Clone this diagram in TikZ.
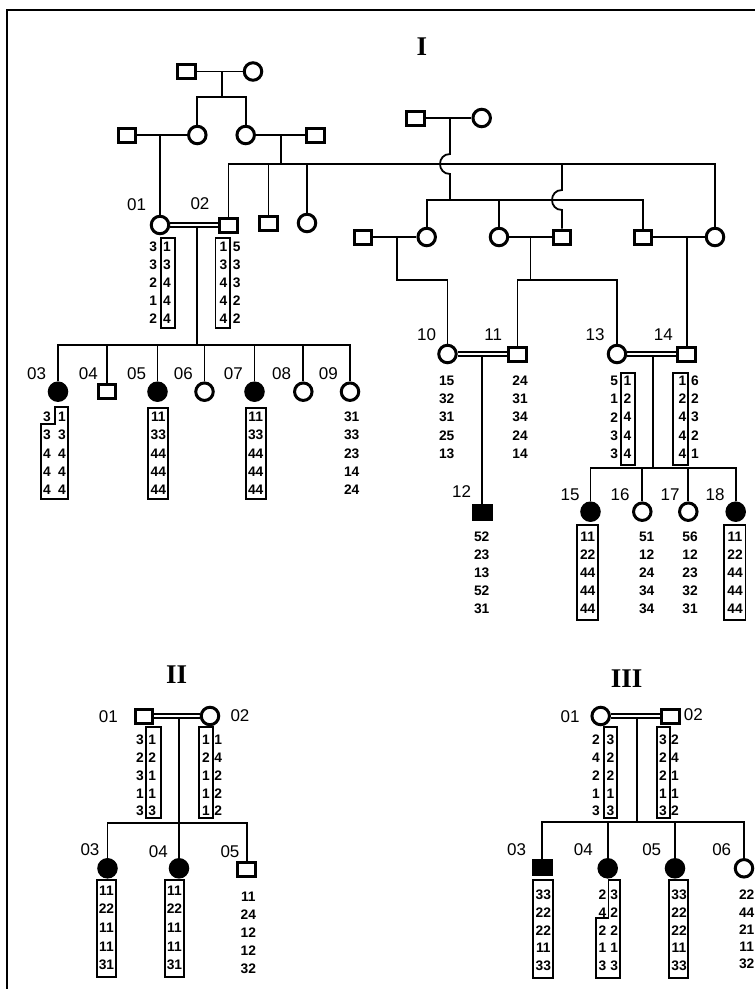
\documentclass[tikz,border=0pt]{standalone}
\usepackage{fontspec}
\setmainfont{Liberation Sans}
\newfontfamily\titlefont{Liberation Serif}
\usetikzlibrary{backgrounds}
\newcommand{\gcol}[5]{\foreach \v [count=\k from 0] in {#5} {\node[gt] (#1-\k) at (#2,{#3+\k*#4}) {\v};}}
\begin{document}
\begin{tikzpicture}[x=1pt,y=-1pt,
  ln/.style={line width=1.8pt},
  dbl/.style={line width=1.5pt, double=white, double distance=2.6pt},
  male/.style={draw, rectangle, minimum width=17.5pt, minimum height=14pt, line width=3pt, inner sep=0pt, fill=white},
  fem/.style={draw, circle, minimum size=17.5pt, line width=3pt, inner sep=0pt, fill=white},
  aff/.style={fill=black},
  gt/.style={font=\bfseries\fontsize{13.8}{15}\selectfont, inner sep=0pt},
  lab/.style={font=\fontsize{17}{19}\selectfont, inner sep=0pt},
  gbox/.style={line width=1.8pt},
  ttl/.style={font=\titlefont\bfseries\fontsize{27}{29}\selectfont, inner sep=0pt},
]
\useasboundingbox (0,0) rectangle (755,989);
% frame
\coordinate (bl) at (7,989); \coordinate (tl) at (7,10); \coordinate (tr) at (755,10);
\draw[line width=1.6pt] (bl) -- (tl) -- (tr);
% titles
\node[ttl] (tI) at (422,47) {I};
\node[ttl] (tII) at (176.7,675) {II};
\node[ttl] (tIII) at (626.7,678.3) {III};

% ===== Family I =====
\node[male] (a1) at (186.5,71.5) {};
\node[fem] (a2) at (253,71.5) {};
\coordinate (ma) at (221.7,71.5);
\coordinate (sa) at (221.7,97);
\node[male] (b1) at (127,135) {};
\node[fem] (b2) at (197.3,135) {};
\node[fem] (b3) at (245.7,135) {};
\node[male] (b4) at (315.5,135) {};
\coordinate (mb1) at (160,135);
\coordinate (mb2) at (281,135);
\coordinate (L1) at (228.5,164); \coordinate (L2) at (715,164);
\node[male] (c1) at (415.5,118) {};
\node[fem] (c2) at (481.7,118) {};
\coordinate (mc) at (450,118); \coordinate (h1a) at (450,154);
\coordinate (h1b) at (450,174); \coordinate (sc) at (450,200);
\node[fem] (c3) at (426.7,237) {};
\node[fem] (c4) at (499,237) {};
\node[male] (c5) at (643,237) {};
\node[fem] (c6) at (715,237) {};
\node[male] (d1) at (363,237) {};
\node[male] (d4) at (562,237) {};
\coordinate (L3) at (562,164); \coordinate (h2a) at (562,190); \coordinate (h2b) at (562,210);
\node[male] (e1) at (268.5,223) {};
\node[fem] (e2) at (307,223) {};

\node[fem] (I01) at (160,225) {};
\node[male] (I02) at (228.5,225) {};
\coordinate (m0102) at (196.7,227.5); \coordinate (s01) at (196.7,345);
\node[fem,aff] (I03) at (58,391.7) {};
\node[male] (I04) at (107,391.7) {};
\node[fem,aff] (I05) at (157.5,391.7) {};
\node[fem] (I06) at (204.5,391.7) {};
\node[fem,aff] (I07) at (254.5,391.7) {};
\node[fem] (I08) at (303.3,391.7) {};
\node[fem] (I09) at (350,391.7) {};

\coordinate (md1) at (397.3,237); \coordinate (j10) at (447.5,280);
\coordinate (md2) at (530.5,237); \coordinate (s11) at (530.5,280);
\coordinate (md3) at (686.7,237);
\node[fem] (I10) at (447.5,354) {};
\node[male] (I11) at (517.5,354) {};
\node[fem] (I13) at (617,354) {};
\node[male] (I14) at (686.7,354) {};
\coordinate (m1011) at (482.3,356.5);
\node[male,aff] (I12) at (482.3,512) {};
\coordinate (m1314) at (653.3,356.5); \coordinate (s13) at (653.3,468.3);
\node[fem,aff] (I15) at (590.5,511.7) {};
\node[fem] (I16) at (642.3,511.7) {};
\node[fem] (I17) at (688.3,511.7) {};
\node[fem,aff] (I18) at (735.7,511.7) {};

% ===== Family II =====
\node[male] (II01) at (144,716) {};
\node[fem] (II02) at (210,716) {};
\coordinate (mII) at (179,718.5); \coordinate (sII) at (179,823.3);
\node[fem,aff] (II03) at (107.5,868.3) {};
\node[fem,aff] (II04) at (179,868.3) {};
\node[male] (II05) at (246.7,869) {};

% ===== Family III =====
\node[fem] (III01) at (600.7,716) {};
\node[male] (III02) at (670.3,716) {};
\coordinate (mIII) at (637.3,718.5); \coordinate (sIII) at (637.3,821.7);
\node[male,aff] (III03) at (542.3,867.5) {};
\node[fem,aff] (III04) at (607.7,868.3) {};
\node[fem,aff] (III05) at (675,868.3) {};
\node[fem] (III06) at (744,868.3) {};

\begin{pgfonlayer}{background}
\draw[ln] (a1) -- (a2);
\draw[ln] (ma) -- (sa);
\draw[ln] (b2) |- (sa) -| (b3);
\draw[ln] (b1) -- (b2);
\draw[ln] (b3) -- (b4);
\draw[ln] (mb1) -- (I01);
\draw[ln] (mb2) -- (mb2 |- L1);
\draw[ln] (I02) -- (L1) -- (L2) -- (c6);
\draw[ln] (e1) -- (e1 |- L1);
\draw[ln] (e2) -- (e2 |- L1);
\draw[ln] (L3) -- (h2a) .. controls (548.7,190) and (548.7,210) .. (h2b) -- (d4);
\draw[ln] (c1) -- (c2);
\draw[ln] (mc) -- (h1a) .. controls (436.7,154) and (436.7,174) .. (h1b) -- (sc);
\draw[ln] (c3) |- (sc) -| (c5);
\draw[ln] (c4) -- (c4 |- sc);
\draw[ln] (d1) -- (c3);
\draw[ln] (c4) -- (d4);
\draw[ln] (c5) -- (c6);
\draw[ln] (md1) |- (j10) -- (I10);
\draw[ln] (md2) -- (s11);
\draw[ln] (I11) |- (s11) -| (I13);
\draw[ln] (md3) -- (I14);
\draw[dbl] (I01) -- (I02);
\draw[ln] (m0102) -- (s01);
\draw[ln] (I03) |- (s01) -| (I09);
\foreach \n in {I04,I05,I06,I07,I08} \draw[ln] (\n) -- (\n |- s01);
\draw[dbl] (I10) -- (I11);
\draw[ln] (m1011) -- (I12);
\draw[dbl] (I13) -- (I14);
\draw[ln] (m1314) -- (s13);
\draw[ln] (I15) |- (s13) -| (I18);
\draw[ln] (I16) -- (I16 |- s13);
\draw[ln] (I17) -- (I17 |- s13);
\draw[dbl] (II01) -- (II02);
\draw[ln] (mII) -- (II04);
\draw[ln] (II03) |- (sII) -| (II05);
\draw[dbl] (III01) -- (III02);
\draw[ln] (mIII) -- (sIII);
\draw[ln] (III03) |- (sIII) -| (III06);
\draw[ln] (III04) -- (III04 |- sIII);
\draw[ln] (III05) -- (III05 |- sIII);
\end{pgfonlayer}

% labels
\node[lab] (lI01) at (136.7,205) {01};
\node[lab] (lI02) at (200,204) {02};
\node[lab] (lI03) at (36.7,373.3) {03};
\node[lab] (lI04) at (88.3,373.3) {04};
\node[lab] (lI05) at (136.7,373.3) {05};
\node[lab] (lI06) at (183.3,373.3) {06};
\node[lab] (lI07) at (233.3,373.3) {07};
\node[lab] (lI08) at (281.7,373.3) {08};
\node[lab] (lI09) at (328.3,373.3) {09};
\node[lab] (lI10) at (426.7,335) {10};
\node[lab] (lI11) at (493.3,335) {11};
\node[lab] (lI12) at (461.7,491.7) {12};
\node[lab] (lI13) at (595,335) {13};
\node[lab] (lI14) at (663.3,335) {14};
\node[lab] (lI15) at (570,495) {15};
\node[lab] (lI16) at (620,495) {16};
\node[lab] (lI17) at (670,495) {17};
\node[lab] (lI18) at (715,495) {18};
\node[lab] (lII01) at (108.3,716.7) {01};
\node[lab] (lII02) at (240,716) {02};
\node[lab] (lII03) at (90,850) {03};
\node[lab] (lII04) at (158.3,851.7) {04};
\node[lab] (lII05) at (230,851.7) {05};
\node[lab] (lIII01) at (570,716.7) {01};
\node[lab] (lIII02) at (693.3,715) {02};
\node[lab] (lIII03) at (516.7,849.3) {03};
\node[lab] (lIII04) at (583.3,849.3) {04};
\node[lab] (lIII05) at (651.7,849.3) {05};
\node[lab] (lIII06) at (721.7,849.3) {06};

% genotypes family I
\gcol{g01a}{153.3}{247}{18}{3,3,2,1,2}
\gcol{g01b}{167}{247}{18}{1,3,4,4,4}
\draw[gbox] (161,238.3) rectangle (175,328.3);
\gcol{g02a}{223.5}{247}{18}{1,3,4,4,4}
\gcol{g02b}{236.7}{247}{18}{5,3,3,2,2}
\draw[gbox] (215.5,238.3) rectangle (230,328.3);

\gcol{g03a}{47}{416.7}{18.3}{3,3,4,4,4}
\gcol{g03b}{62}{416.7}{18.3}{1,3,4,4,4}
\draw[gbox] (55,406.7) -- (68.3,406.7) -- (68.3,499) -- (41,499) -- (41,424) -- (55,424) -- cycle;
\gcol{g05}{158.3}{416.7}{18.3}{11,33,44,44,44}
\draw[gbox] (148.3,408.3) rectangle (168.3,499);
\gcol{g07}{255.7}{416.7}{18.3}{11,33,44,44,44}
\draw[gbox] (245.7,408.3) rectangle (265.7,499);
\gcol{g09}{351.7}{416.7}{18.3}{31,33,23,14,24}

\gcol{g10}{446.7}{381}{18.1}{15,32,31,25,13}
\gcol{g11}{520}{381}{18.1}{24,31,34,24,14}
\gcol{g13a}{614.3}{381}{18.1}{5,1,2,3,3}
\gcol{g13b}{627.5}{381}{18.1}{1,2,4,4,4}
\draw[gbox] (621,372.7) rectangle (635,465);
\gcol{g14a}{682.5}{381}{18.1}{1,2,4,4,4}
\gcol{g14b}{695}{381}{18.1}{6,2,3,2,1}
\draw[gbox] (673.3,372.7) rectangle (688.3,465);

\gcol{g12}{481.7}{536.7}{17.9}{52,23,13,52,31}
\gcol{g15}{587.7}{536.7}{17.9}{11,22,44,44,44}
\draw[gbox] (576.7,525) rectangle (598.3,620);
\gcol{g16}{646.7}{536.7}{17.9}{51,12,24,34,34}
\gcol{g17}{690}{536.7}{17.9}{56,12,23,32,31}
\gcol{g18}{735}{536.7}{17.9}{11,22,44,44,44}
\draw[gbox] (724.3,525) rectangle (745.5,620);

% genotypes family II
\gcol{h01a}{140}{740}{17.75}{3,2,3,1,3}
\gcol{h01b}{152.3}{740}{17.75}{1,2,1,1,3}
\draw[gbox] (145.7,727.3) rectangle (161,818.3);
\gcol{h02a}{206}{740}{17.75}{1,2,1,1,1}
\gcol{h02b}{218.3}{740}{17.75}{1,4,2,2,2}
\draw[gbox] (199.3,727.3) rectangle (213.3,818.3);
\gcol{h03}{106.5}{890.5}{18.6}{11,22,11,11,31}
\draw[gbox] (96.7,880) rectangle (116,976.7);
\gcol{h04}{174.5}{890.5}{18.6}{11,22,11,11,31}
\draw[gbox] (165,880) rectangle (184.3,976.7);
\gcol{h05}{248.3}{896.7}{17.9}{11,24,12,12,32}

% genotypes family III
\gcol{k01a}{596}{740}{17.75}{2,4,2,1,3}
\gcol{k01b}{610.5}{740}{17.75}{3,2,2,1,3}
\draw[gbox] (604,727.3) rectangle (617.3,818.3);
\gcol{k02a}{663}{740}{17.75}{3,2,2,1,3}
\gcol{k02b}{675}{740}{17.75}{2,4,1,1,2}
\draw[gbox] (656.7,727.3) rectangle (670,818.3);
\gcol{k03}{543.3}{895}{17.6}{33,22,22,11,33}
\draw[gbox] (533.3,880) rectangle (553.3,978.3);
\gcol{k04a}{602.5}{895}{17.6}{2,4,2,1,3}
\gcol{k04b}{614.3}{895}{17.6}{3,2,2,1,3}
\draw[gbox] (608.5,880) -- (620,880) -- (620,978.3) -- (596,978.3) -- (596,918.3) -- (608.5,918.3) -- cycle;
\gcol{k05}{679}{895}{17.6}{33,22,22,11,33}
\draw[gbox] (669.3,880) rectangle (688.3,978.3);
\gcol{k06}{746.7}{895}{17.3}{22,44,21,11,32}
\end{tikzpicture}
\end{document}
